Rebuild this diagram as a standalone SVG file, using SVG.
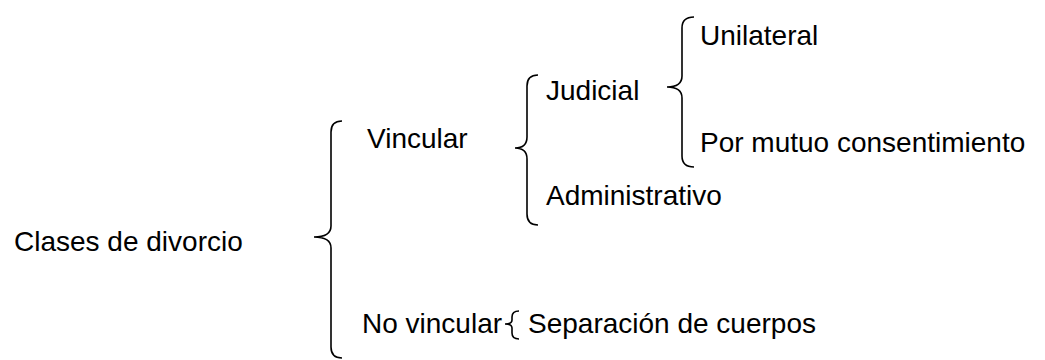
<svg xmlns="http://www.w3.org/2000/svg" width="1045" height="360" viewBox="0 0 1045 360">
<style>
text{font-family:"Liberation Sans",Arial,sans-serif;font-size:28px;fill:#000}
.br{fill:none;stroke:#000;stroke-width:1.6}
</style>
<rect width="1045" height="360" fill="#fff"/>
<g id="root"><text x="14" y="251">Clases de divorcio</text></g>
<g id="vincular"><text x="367" y="148">Vincular</text></g>
<g id="judicial"><text x="546" y="100">Judicial</text></g>
<g id="unilateral"><text x="700" y="45">Unilateral</text></g>
<g id="mutuo"><text x="700" y="152">Por mutuo consentimiento</text></g>
<g id="administrativo"><text x="546" y="205">Administrativo</text></g>
<g id="novincular"><text x="362" y="333">No vincular</text></g>
<g id="separacion"><text x="528" y="333">Separación de cuerpos</text></g>
<g id="connectors">
<path class="br" d="M342,121 Q331,121 331,132 L331,226 Q331,237 314,237 Q331,237 331,248 L331,347 Q331,358 342,358"/>
<path class="br" d="M538,75 Q527,75 527,86 L527,137 Q527,148 515,148 Q527,148 527,159 L527,214 Q527,225 538,225"/>
<path class="br" d="M694,17 Q682,17 682,28 L682,76 Q682,87 667,87 Q682,87 682,98 L682,156 Q682,167 694,167"/>
<path class="br" d="M519,311 Q512,311 512,317 L512,320 Q512,324 505,324 Q512,324 512,328 L512,333 Q512,339 519,339"/>
</g>
</svg>
